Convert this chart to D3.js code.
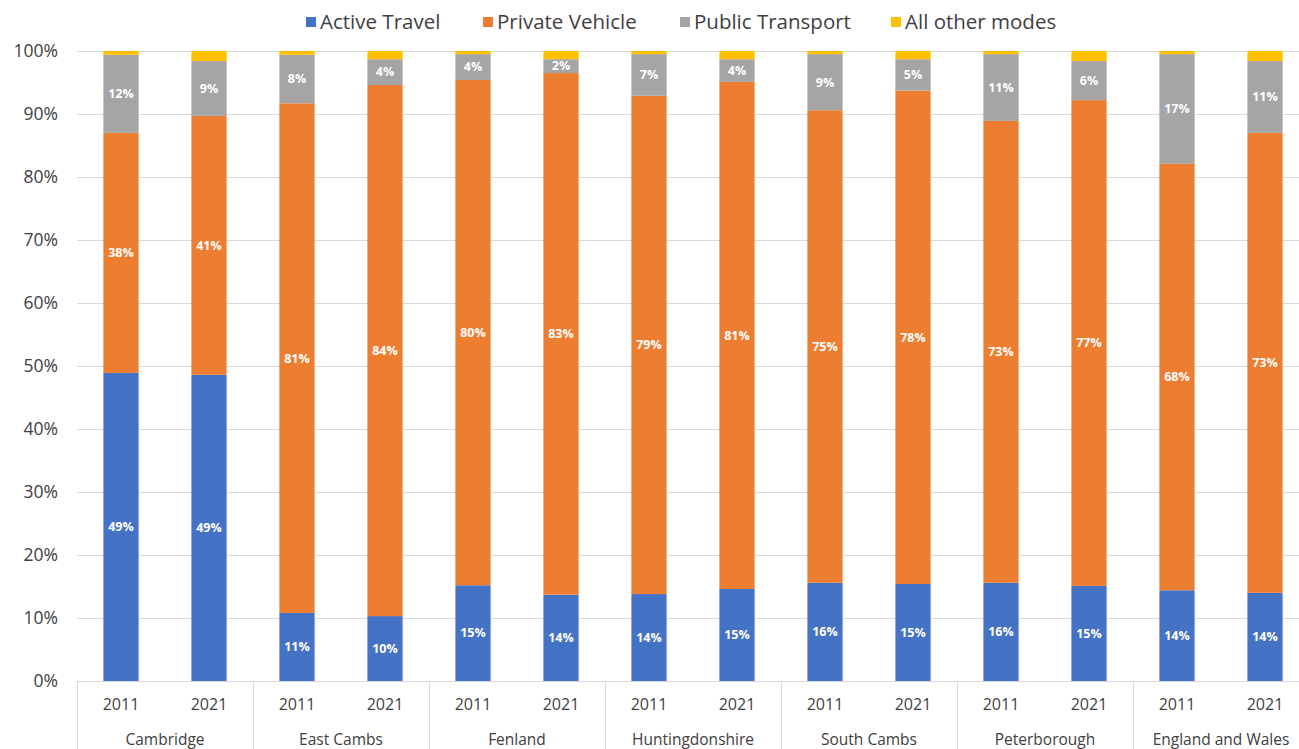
<!DOCTYPE html>
<html>
<head>
<meta charset="utf-8">
<script src="https://cdn.jsdelivr.net/npm/d3@7"></script>
<style>
  html, body { margin: 0; padding: 0; background: #fff; }
  svg { display: block; font-family: "Open Sans", "Liberation Sans", sans-serif; }
</style>
</head>
<body>
<svg id="chart" width="1299" height="749"></svg>
<script>
// Travel-to-work mode share by area, 2011 vs 2021 (percent of commuters)
const areas = ["Cambridge", "East Cambs", "Fenland", "Huntingdonshire", "South Cambs", "Peterborough", "England and Wales"];
const years = ["2011", "2021"];
const seriesNames = ["Active Travel", "Private Vehicle", "Public Transport", "All other modes"];
const seriesColors = ["#4472C4", "#ED7D31", "#A5A5A5", "#FFC000"];

// one value per bar, ordered area by area, 2011 then 2021
const activeTravel    = [48.9, 48.6, 10.8, 10.3, 15.2, 13.7, 13.8, 14.6, 15.6, 15.4, 15.6, 15.1, 14.4, 14.0];
const privateVehicle  = [38.1, 41.1, 80.9, 84.3, 80.2, 82.8, 79.1, 80.5, 75.0, 78.3, 73.3, 77.1, 67.7, 73.0];
const publicTransport = [12.4,  8.7,  7.7,  4.1,  4.1,  2.2,  6.6,  3.6,  8.9,  5.0, 10.6,  6.2, 17.4, 11.4];
const otherModes      = [ 0.6,  1.6,  0.6,  1.3,  0.5,  1.3,  0.5,  1.3,  0.5,  1.3,  0.5,  1.6,  0.5,  1.6];
const yTicks = [0, 10, 20, 30, 40, 50, 60, 70, 80, 90, 100];

const rows = [];
areas.forEach((a, i) => years.forEach((y, j) => {
  const k = i * 2 + j;
  rows.push({
    key: a + "|" + y, area: a, year: y,
    "Active Travel": activeTravel[k],
    "Private Vehicle": privateVehicle[k],
    "Public Transport": publicTransport[k],
    "All other modes": otherModes[k]
  });
}));

const svg = d3.select("#chart");
const W = 1299, H = 749;
const plot = { left: 77, right: 1309, top: 51, bottom: 681 };

const x = d3.scaleBand()
  .domain(rows.map(d => d.key))
  .range([plot.left, plot.right])
  .paddingInner(0.6)
  .paddingOuter(0.3);

const y = d3.scaleLinear().domain([0, 100]).range([plot.bottom, plot.top]);

const color = d3.scaleOrdinal().domain(seriesNames).range(seriesColors);

// horizontal gridlines
svg.append("g")
  .selectAll("line")
  .data(yTicks)
  .join("line")
  .attr("x1", plot.left).attr("x2", W)
  .attr("y1", d => Math.round(y(d)) + 0.5).attr("y2", d => Math.round(y(d)) + 0.5)
  .attr("stroke", "#d9d9d9").attr("stroke-width", 1);

// y tick labels
svg.append("g")
  .selectAll("text")
  .data(yTicks)
  .join("text")
  .attr("x", 58)
  .attr("y", d => y(d))
  .attr("dy", "0.35em")
  .attr("text-anchor", "end")
  .attr("font-size", 17.5)
  .attr("fill", "#404040")
  .text(d => d + "%");

// stacked bars
const stack = d3.stack().keys(seriesNames);
const layers = stack(rows);

const layerG = svg.append("g")
  .selectAll("g")
  .data(layers)
  .join("g")
  .attr("fill", d => color(d.key));

layerG.selectAll("rect")
  .data(d => d)
  .join("rect")
  .attr("x", d => x(d.data.key))
  .attr("width", x.bandwidth())
  .attr("y", d => y(d[1]))
  .attr("height", d => y(d[0]) - y(d[1]));

// value labels on the first three series
const labelled = layers.filter(l => l.key !== "All other modes");
svg.append("g")
  .selectAll("g")
  .data(labelled)
  .join("g")
  .selectAll("text")
  .data(l => l.map(d => ({ d, key: l.key })))
  .join("text")
  .attr("x", o => x(o.d.data.key) + x.bandwidth() / 2)
  .attr("y", o => y((o.d[0] + o.d[1]) / 2))
  .attr("dy", "0.35em")
  .attr("text-anchor", "middle")
  .attr("font-size", 12.5)
  .attr("font-weight", "bold")
  .attr("fill", "#fff")
  .text(o => Math.round(o.d.data[o.key]) + "%");

// x axis baseline
svg.append("line")
  .attr("x1", plot.left).attr("x2", W)
  .attr("y1", plot.bottom + 0.5).attr("y2", plot.bottom + 0.5)
  .attr("stroke", "#d9d9d9");

// group separators below the axis
const gap = (x.step() - x.bandwidth()) / 2;
const sepXs = areas.map(a => x(a + "|2011") - gap);
sepXs.push(x(areas[areas.length - 1] + "|2021") + x.bandwidth() + gap);
svg.append("g")
  .selectAll("line")
  .data(sepXs)
  .join("line")
  .attr("x1", d => Math.round(d) + 0.5).attr("x2", d => Math.round(d) + 0.5)
  .attr("y1", plot.bottom).attr("y2", H)
  .attr("stroke", "#d9d9d9");

// year labels
svg.append("g")
  .selectAll("text")
  .data(rows)
  .join("text")
  .attr("x", d => x(d.key) + x.bandwidth() / 2)
  .attr("y", 704)
  .attr("dy", "0.35em")
  .attr("text-anchor", "middle")
  .attr("font-size", 16)
  .attr("fill", "#404040")
  .text(d => d.year);

// area labels
svg.append("g")
  .selectAll("text")
  .data(areas)
  .join("text")
  .attr("x", a => (x(a + "|2011") + x(a + "|2021") + x.bandwidth()) / 2)
  .attr("y", 740)
  .attr("dy", "0.35em")
  .attr("text-anchor", "middle")
  .attr("font-size", 15.5)
  .attr("fill", "#404040")
  .text(a => a);

// legend
const legendX = [306, 483, 680, 891];
const legend = svg.append("g")
  .selectAll("g")
  .data(seriesNames)
  .join("g")
  .attr("transform", (d, i) => `translate(${legendX[i]},22)`);
legend.append("rect")
  .attr("x", 0).attr("y", -5).attr("width", 10).attr("height", 10)
  .attr("fill", d => color(d));
legend.append("text")
  .attr("x", 14).attr("y", 0).attr("dy", "0.35em")
  .attr("font-size", 20.5)
  .attr("fill", "#404040")
  .text(d => d);
</script>
</body>
</html>
